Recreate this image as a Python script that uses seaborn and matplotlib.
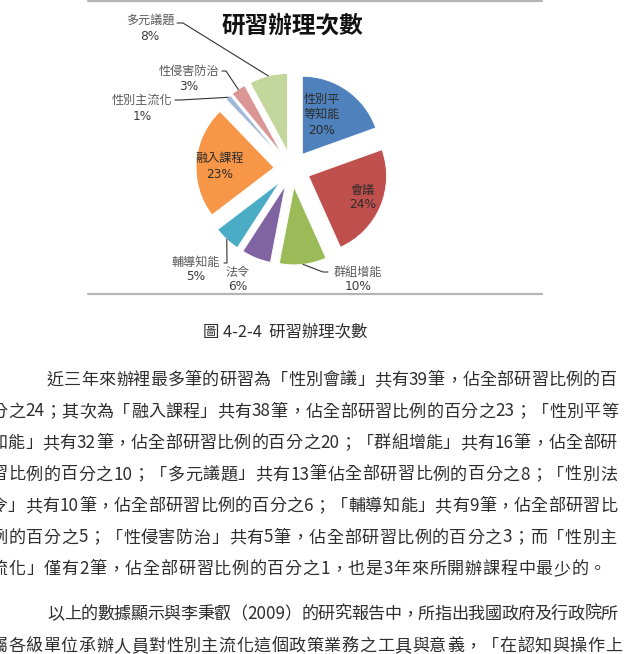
import re
import numpy as np
import matplotlib
matplotlib.use("Agg")
import matplotlib.pyplot as plt
import seaborn as sns

# ---------------- data ----------------
categories = ["性別平等知能", "會議", "群組增能", "法令", "輔導知能",
              "融入課程", "性別主流化", "性侵害防治", "多元議題"]
counts = [32, 39, 16, 10, 9, 38, 2, 5, 13]
colors = ["#4F81BD", "#C0504D", "#9BBB59", "#8064A2", "#4BACC6",
          "#F79646", "#A3B9DB", "#D99694", "#C3D69B"]
display_names = ["性別平\n等知能", "會議", "群組增能", "法令", "輔導知能",
                 "融入課程", "性別主流化", "性侵害防治", "多元議題"]
chart_title = "研習辦理次數"
caption = "圖 4-2-4  研習辦理次數"
paragraph_lines = [
    "近三年來辦裡最多筆的研習為「性別會議」共有39筆，佔全部研習比例的百",
    "分之24；其次為「融入課程」共有38筆，佔全部研習比例的百分之23；「性別平等",
    "知能」共有32筆，佔全部研習比例的百分之20；「群組增能」共有16筆，佔全部研",
    "習比例的百分之10；「多元議題」共有13筆佔全部研習比例的百分之8；「性別法",
    "令」共有10筆，佔全部研習比例的百分之6；「輔導知能」共有9筆，佔全部研習比",
    "例的百分之5；「性侵害防治」共有5筆，佔全部研習比例的百分之3；而「性別主",
    "流化」僅有2筆，佔全部研習比例的百分之1，也是3年來所開辦課程中最少的。",
    "以上的數據顯示與李秉叡（2009）的研究報告中，所指出我國政府及行政院所",
    "屬各級單位承辦人員對性別主流化這個政策業務之工具與意義，「在認知與操作上",
]

# ---------------- style ----------------
sns.set_theme(style="white")
FONT = ["Noto Sans CJK TC", "DejaVu Sans"]
plt.rcParams["font.family"] = FONT

W, H = 627, 654
fig = plt.figure(figsize=(W / 100, H / 100), dpi=100)
ax = fig.add_axes([0, 0, 1, 1])


def Y(y):
    return H - y


# ---------------- pie ----------------
total = sum(counts)
pcts = [f"{round(c / total * 100)}%" for c in counts]
cx, cy, R = 292, Y(169), 78
explode = [18] * len(counts)   # absolute offset in pixel-units of this axes
wedges, _ = ax.pie(counts, colors=colors, startangle=90, counterclock=False,
                   explode=explode, center=(cx, cy), radius=R,
                   wedgeprops=dict(linewidth=0.6, edgecolor="#ffffff"))
ax.set_xlim(0, W)
ax.set_ylim(0, H)
ax.set_aspect("auto")
ax.axis("off")


def rim_point(w):
    mid = np.deg2rad((w.theta1 + w.theta2) / 2)
    return w.center[0] + w.r * np.cos(mid), w.center[1] + w.r * np.sin(mid)


# title
ax.text(292, Y(26), chart_title, fontsize=17, fontweight="bold",
        ha="center", va="center", color="#111111")

NAME_C = "#5a5a5a"
PCT_C = "#3c3c3c"
LFS = 8.7

label_pos = {
    "性別平等知能": (322, 107, 130),
    "會議": (363, 190, 204),
    "群組增能": (358, 272, 287),
    "法令": (238, 273, 287),
    "輔導知能": (196, 262, 277),
    "融入課程": (220, 158, 174),
    "性別主流化": (142, 100, 116),
    "性侵害防治": (189, 71, 86),
    "多元議題": (150, 20, 36),
}
inside = {"性別平等知能", "會議", "融入課程"}
leaders = {
    "多元議題": [(177, 23), (183, 23)],
    "性侵害防治": [(222, 71), (226, 71)],
    "性別主流化": [(175, 100), (180, 100)],
    "群組增能": [(328, 272), (323, 272)],
    "輔導知能": [(224, 263), (227, 263)],
}
for i, name in enumerate(categories):
    x, yn, yp = label_pos[name]
    col_n = "#2b2b2b" if name in inside else NAME_C
    col_p = "#2b2b2b" if name in inside else PCT_C
    ax.text(x, Y(yn), display_names[i], fontsize=LFS, ha="center", va="center",
            color=col_n, linespacing=1.25)
    ax.text(x, Y(yp), pcts[i], fontsize=LFS, ha="center", va="center",
            color=col_p, family=["DejaVu Sans"])
    if name in leaders:
        pts = [(px, Y(py)) for px, py in leaders[name]] + [rim_point(wedges[i])]
        xs, ys = zip(*pts)
        ax.plot(xs, ys, color="#333333", lw=0.8)

# chart frame lines
ax.plot([88, 542], [Y(1), Y(1)], color="#b5b5b5", lw=1.6)
ax.plot([88, 542], [Y(294), Y(294)], color="#b5b5b5", lw=1.6)

# ---------------- caption & body text ----------------
BFS = 12.3
TXT_C = "#2e2e2e"
ax.text(285, Y(332), caption, fontsize=11.8, ha="center", va="center", color=TXT_C)

fig.canvas.draw()
renderer = fig.canvas.get_renderer()
_cache = {}


def tw(s):
    if s not in _cache:
        t = ax.text(0, 0, s, fontsize=BFS)
        _cache[s] = t.get_window_extent(renderer).width
        t.remove()
    return _cache[s]


line_x = [47, -9.5, -9.5, -9.5, -9.5, -9.5, -9.5, 47, -9.5]
line_y = [380, 411.5, 443, 474.5, 506, 537.5, 569, 614, 646]
line_right = [617, 618, 617, 617, 617, 617, 606, 618, 622]

for s, x0, y0, xr in zip(paragraph_lines, line_x, line_y, line_right):
    toks = re.findall(r"\d+|.", s)
    widths = [tw(t) for t in toks]
    extra = (xr - x0) - sum(widths)
    gap = extra / max(len(toks) - 1, 1)
    x = x0
    for t, w in zip(toks, widths):
        ax.text(x, Y(y0), t, fontsize=BFS, ha="left", va="center", color=TXT_C)
        x += w + gap

fig.savefig("out.png", dpi=100)
